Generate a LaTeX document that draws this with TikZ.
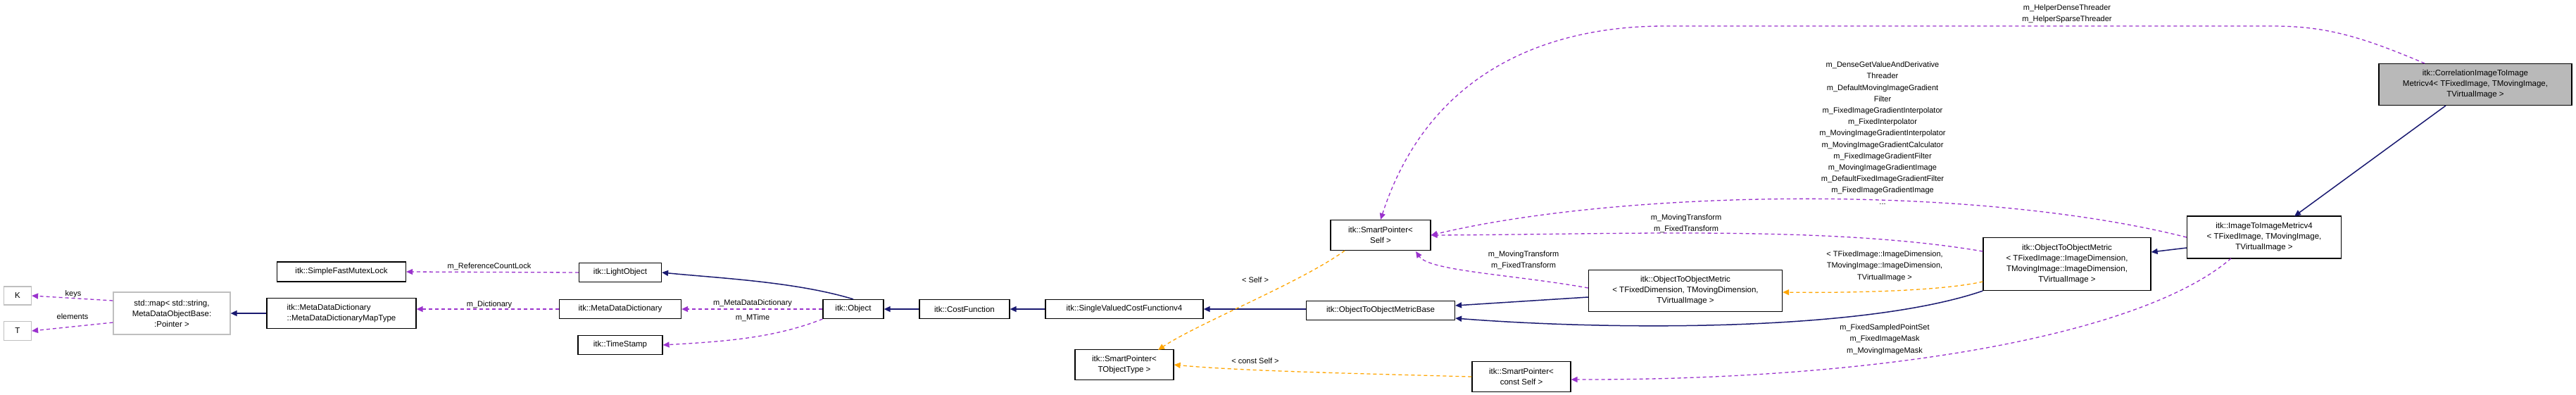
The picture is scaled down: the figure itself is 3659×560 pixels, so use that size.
\documentclass[tikz,border=0pt]{standalone}
\usepackage{fontspec}
\setmainfont{Liberation Sans}
\usetikzlibrary{arrows.meta}
\definecolor{navy}{HTML}{191970}
\definecolor{purp}{HTML}{9A32CD}
\definecolor{orng}{HTML}{FFA500}
\tikzset{
 cls/.style={draw=black,line width=1.2pt,inner sep=2pt,font=\fontsize{11.5}{15}\selectfont,align=center},
 ext/.style={cls,draw=gray!50},
 inh/.style={navy,line width=1.5pt,-{Triangle[length=9pt,width=8pt]}},
 use/.style={purp,line width=1.3pt,dash pattern=on 5pt off 4pt,-{Triangle[length=9pt,width=8pt]}},
 tpl/.style={orng,line width=1.3pt,dash pattern=on 5pt off 4pt,-{Triangle[length=9pt,width=8pt]}},
 lbl/.style={font=\fontsize{11}{16.2}\selectfont,align=center,inner sep=1pt}
}
\begin{document}
\begin{tikzpicture}[x=1pt,y=-1pt]
\useasboundingbox (0,0) rectangle (3659,560);
\node[ext,minimum width=39pt,minimum height=26pt] (K) at (25,420) {K};
\node[ext,minimum width=39pt,minimum height=27pt] (T) at (25,470) {T};
\node[ext,minimum width=166pt,minimum height=60pt] (map) at (244,445) {std::map\textless{} std::string,\\ MetaDataObjectBase:\\:Pointer \textgreater};
\node[cls,minimum width=212pt,minimum height=43pt,align=left] (mapt) at (485,445) {itk::MetaDataDictionary\\::MetaDataDictionaryMapType};
\node[cls,minimum width=183pt,minimum height=28pt] (mutex) at (485,386) {itk::SimpleFastMutexLock};
\node[cls,minimum width=117pt,minimum height=27pt] (light) at (881,387) {itk::LightObject};
\node[cls,minimum width=173pt,minimum height=27pt] (mdd) at (881,439) {itk::MetaDataDictionary};
\node[cls,minimum width=120pt,minimum height=27pt] (ts) at (881,490) {itk::TimeStamp};
\node[cls,minimum width=86pt,minimum height=27pt] (obj) at (1212,439) {itk::Object};
\node[cls,minimum width=128pt,minimum height=27pt] (cf) at (1370,439) {itk::CostFunction};
\node[cls,minimum width=224pt,minimum height=27pt] (svcf) at (1597,439) {itk::SingleValuedCostFunctionv4};
\node[cls,minimum width=211pt,minimum height=27pt] (base) at (1961,441) {itk::ObjectToObjectMetricBase};
\node[cls,minimum width=142pt,minimum height=43pt] (sps) at (1961,334) {itk::SmartPointer\textless\\ Self \textgreater};
\node[cls,minimum width=140pt,minimum height=43pt] (spt) at (1597,518) {itk::SmartPointer\textless\\ TObjectType \textgreater};
\node[cls,minimum width=140pt,minimum height=43pt] (spc) at (2161,535) {itk::SmartPointer\textless\\ const Self \textgreater};
\node[cls,minimum width=275pt,minimum height=59pt] (otom2) at (2394,413) {itk::ObjectToObjectMetric\\\textless{} TFixedDimension, TMovingDimension,\\ TVirtualImage \textgreater};
\node[cls,minimum width=238pt,minimum height=75pt] (otom1) at (2936,375) {itk::ObjectToObjectMetric\\\textless{} TFixedImage::ImageDimension,\\ TMovingImage::ImageDimension,\\ TVirtualImage \textgreater};
\node[cls,minimum width=219pt,minimum height=60pt] (i2i) at (3216,337) {itk::ImageToImageMetricv4\\\textless{} TFixedImage, TMovingImage,\\ TVirtualImage \textgreater};
\node[cls,fill=gray!55,minimum width=274pt,minimum height=59pt] (corr) at (3516,120) {itk::CorrelationImageToImage\\Metricv4\textless{} TFixedImage, TMovingImage,\\ TVirtualImage \textgreater};
\coordinate (s1) at (1910,356);
\coordinate (s2) at (1645,497);
\coordinate (c1) at (3444,90);
\coordinate (c2) at (3474,150);
\coordinate (c3) at (3259,307);
\coordinate (c4) at (2011,357);
\coordinate (c5) at (3169,367);
% edges
\draw[use] (map.west|-0,427) -- (K.east);
\draw[use] (map.west|-0,458) -- (T.east);
\node[lbl] (lk) at (104,418) {keys};
\node[lbl] (le) at (103,450) {elements};
\draw[inh] (mapt.west|-map.east) -- (map.east);
\draw[use] (light.west) -- (mutex.east);
\node[lbl] (l1) at (695,379) {m\_ReferenceCountLock};
\draw[use] (mdd.west) -- (mapt.east|-mdd.west);
\node[lbl] (l2) at (695,433) {m\_Dictionary};
\draw[inh] (obj.north) .. controls (1130,400) and (1020,395) .. (light.east);
\draw[use] (obj.west) -- (mdd.east);
\node[lbl] (l3) at (1069,431) {m\_MetaDataDictionary};
\draw[use] (obj.south west) .. controls (1100,480) and (1030,485) .. (ts.east);
\node[lbl] (l4) at (1069,452) {m\_MTime};
\draw[inh] (cf.west) -- (obj.east);
\draw[inh] (svcf.west) -- (cf.east);
\draw[inh] (base.west|-svcf.east) -- (svcf.east);
\draw[tpl] (s1) .. controls (1850,400) and (1700,460) .. (s2);
\node[lbl] (l5) at (1783,398) {\textless{} Self \textgreater};
\draw[tpl] (spc.west) .. controls (1900,530) and (1750,526) .. (spt.east);
\node[lbl] (l6) at (1783,513) {\textless{} const Self \textgreater};
\draw[use] (c1) .. controls (3350,50) and (3300,37) .. (3227,37) -- (2365,37) .. controls (2200,37) and (2030,100) .. (sps.north);
\node[lbl] (l7) at (2936,20) {m\_HelperDenseThreader\\m\_HelperSparseThreader};
\draw[inh] (c2) -- (c3);
\draw[use] (i2i.west) .. controls (2800,260) and (2300,270) .. (sps.east);
\node[lbl] (l8) at (2674,189) {m\_DenseGetValueAndDerivative\\Threader\\m\_DefaultMovingImageGradient\\Filter\\m\_FixedImageGradientInterpolator\\m\_FixedInterpolator\\m\_MovingImageGradientInterpolator\\m\_MovingImageGradientCalculator\\m\_FixedImageGradientFilter\\m\_MovingImageGradientImage\\m\_DefaultFixedImageGradientFilter\\m\_FixedImageGradientImage\\...};
\draw[use] (otom1.west|-0,357) .. controls (2600,320) and (2300,333) .. (sps.east|-0,334);
\node[lbl] (l9) at (2395,318) {m\_MovingTransform\\m\_FixedTransform};
\draw[use] (otom2.west|-0,409) .. controls (2150,390) and (2030,385) .. (c4);
\node[lbl] (l10) at (2164,370) {m\_MovingTransform\\m\_FixedTransform};
\draw[tpl] (otom1.west|-0,400) .. controls (2750,415) and (2600,416) .. (otom2.east|-0,415);
\node[lbl] (l11) at (2677,378) {\textless{} TFixedImage::ImageDimension,\\TMovingImage::ImageDimension,\\TVirtualImage \textgreater};
\draw[inh] (otom2.west|-0,422) -- (base.east|-0,434);
\draw[inh] (otom1.south west) .. controls (2650,470) and (2300,470) .. (base.east|-0,452);
\draw[inh] (i2i.west|-0,352) -- (otom1.east|-0,358);
\draw[use] (c5) .. controls (3050,470) and (2700,540) .. (spc.east|-0,539);
\node[lbl] (l12) at (2677,482) {m\_FixedSampledPointSet\\m\_FixedImageMask\\m\_MovingImageMask};
\end{tikzpicture}
\end{document}
